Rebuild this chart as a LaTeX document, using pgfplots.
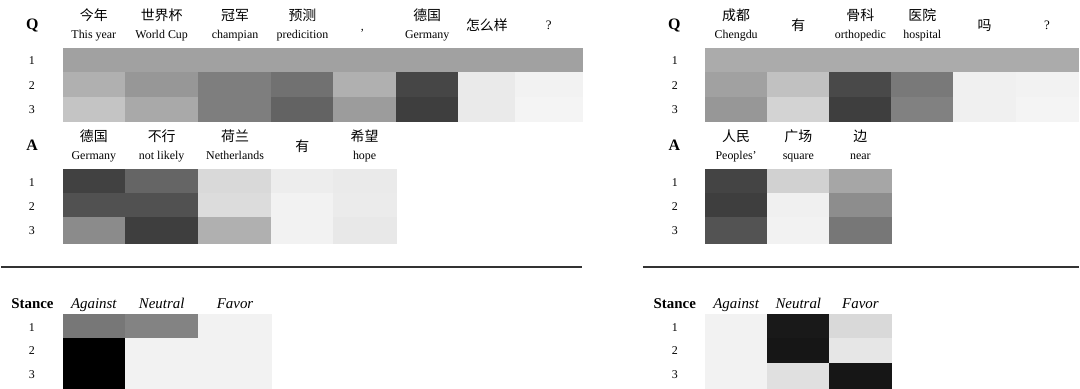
\documentclass[border=0pt]{standalone}
\usepackage{fontspec}
\setmainfont{Liberation Serif}
\newfontfamily\cjk{Noto Sans CJK SC}
\usepackage{pgfplots}
\pgfplotsset{compat=1.18}

% one unit of the axis = one pixel of the reference
\newcommand{\zh}{\cjk\fontsize{14}{14}\selectfont}
\newcommand{\en}{\fontsize{12}{12}\selectfont}
\pgfplotsset{
  heat/.style={surf, shader=flat corner, point meta=explicit, mesh/cols=#1},
}
\tikzset{
  lab/.style={anchor=base, inner sep=0pt, font=\en},
  hz/.style={anchor=base, inner sep=0pt, font=\zh},
}

\begin{document}
\begin{tikzpicture}
\begin{axis}[
  scale only axis, width=1080bp, height=389bp,
  xmin=0, xmax=1080, ymin=0, ymax=389, y dir=reverse,
  hide axis, clip=false,
  colormap={bw}{gray(0cm)=(0); gray(1cm)=(1)},
  point meta min=0, point meta max=255,
]
\path (axis cs:0,0) rectangle (axis cs:1080,389);

% ---------------- left: Q ----------------
\addplot[heat=9] table[meta=c] {
x y c
62 48.3 160
124 48.3 160
198 48.3 160
271 48.3 160
333 48.3 160
395.5 48.3 160
458.3 48.3 160
515.3 48.3 160
582.3 48.3 160
62 72.7 175
124 72.7 150
198 72.7 125
271 72.7 112
333 72.7 175
395.5 72.7 70
458.3 72.7 232
515.3 72.7 240
582.3 72.7 240
62 97.1 195
124 97.1 168
198 97.1 125
271 97.1 98
333 97.1 155
395.5 97.1 62
458.3 97.1 232
515.3 97.1 242
582.3 97.1 242
62 121.7 255
124 121.7 255
198 121.7 255
271 121.7 255
333 121.7 255
395.5 121.7 255
458.3 121.7 255
515.3 121.7 255
582.3 121.7 255
};

% ---------------- left: A ----------------
\addplot[heat=6] table[meta=c] {
x y c
62 169.3 65
124 169.3 100
198 169.3 215
271 169.3 235
333 169.3 232
395.5 169.3 232
62 193.5 80
124 193.5 80
198 193.5 218
271 193.5 240
333 193.5 233
395.5 193.5 233
62 218 138
124 218 62
198 218 175
271 218 240
333 218 230
395.5 218 230
62 243.3 255
124 243.3 255
198 243.3 255
271 243.3 255
333 243.3 255
395.5 243.3 255
};

% ---------------- left: Stance ----------------
\addplot[heat=4] table[meta=c] {
x y c
62 315 118
124 315 130
198 315 240
271 315 240
62 339.3 0
124 339.3 240
198 339.3 240
271 339.3 240
62 363.7 0
124 363.7 240
198 363.7 240
271 363.7 240
62 389 255
124 389 255
198 389 255
271 389 255
};

% ---------------- right: Q ----------------
\addplot[heat=7] table[meta=c] {
x y c
705.3 48.3 170
767.7 48.3 170
830 48.3 170
892 48.3 170
954 48.3 170
1016.7 48.3 170
1079 48.3 170
705.3 72.7 160
767.7 72.7 192
830 72.7 72
892 72.7 120
954 72.7 238
1016.7 72.7 240
1079 72.7 240
705.3 97.1 150
767.7 97.1 210
830 97.1 62
892 97.1 128
954 97.1 238
1016.7 97.1 242
1079 97.1 242
705.3 121.7 255
767.7 121.7 255
830 121.7 255
892 121.7 255
954 121.7 255
1016.7 121.7 255
1079 121.7 255
};

% ---------------- right: A ----------------
\addplot[heat=4] table[meta=c] {
x y c
705.3 169.3 68
767.7 169.3 208
830 169.3 165
892 169.3 165
705.3 193.5 62
767.7 193.5 238
830 193.5 140
892 193.5 140
705.3 218 82
767.7 218 240
830 218 118
892 218 118
705.3 243.3 255
767.7 243.3 255
830 243.3 255
892 243.3 255
};

% ---------------- right: Stance ----------------
\addplot[heat=4] table[meta=c] {
x y c
705.3 315 240
767.7 315 25
830 315 215
892 315 215
705.3 339.3 240
767.7 339.3 22
830 339.3 228
892 339.3 228
705.3 363.7 240
767.7 363.7 222
830 363.7 22
892 363.7 22
705.3 389 255
767.7 389 255
830 389 255
892 389 255
};

% separating rules
\draw[line width=2bp, black!80] (axis cs:0,267.3) -- (axis cs:582.3,267.3);
\draw[line width=2bp, black!80] (axis cs:643,267.3) -- (axis cs:1080,267.3);

% ---------------- left labels ----------------
\node[lab, font=\fontsize{16}{16}\selectfont\bfseries] at (axis cs:31.3,29.5) {Q};
\node[lab] at (axis cs:31,65) {1};
\node[lab] at (axis cs:31,89.3) {2};
\node[lab] at (axis cs:31,113.5) {3};
\node[hz] at (axis cs:93,21) {今年};
\node[lab] at (axis cs:93,39) {This year};
\node[hz] at (axis cs:161,21) {世界杯};
\node[lab] at (axis cs:161,39) {World Cup};
\node[hz] at (axis cs:234.5,21) {冠军};
\node[lab] at (axis cs:234.5,39) {champian};
\node[hz] at (axis cs:302,21) {预测};
\node[lab] at (axis cs:302,39) {predicition};
\node[lab] at (axis cs:362,31) {,};
\node[hz] at (axis cs:427,21) {德国};
\node[lab] at (axis cs:427,39) {Germany};
\node[hz] at (axis cs:486.8,31) {怎么样};
\node[lab, font=\fontsize{13}{13}\selectfont] at (axis cs:548.8,30) {?};

\node[lab, font=\fontsize{16}{16}\selectfont\bfseries] at (axis cs:31.3,150.7) {A};
\node[lab] at (axis cs:31,186.7) {1};
\node[lab] at (axis cs:31,210.5) {2};
\node[lab] at (axis cs:31,235) {3};
\node[hz] at (axis cs:93,141.5) {德国};
\node[lab] at (axis cs:93,160) {Germany};
\node[hz] at (axis cs:161,141.5) {不行};
\node[lab] at (axis cs:161,160) {not likely};
\node[hz] at (axis cs:234.5,141.5) {荷兰};
\node[lab] at (axis cs:234.5,160) {Netherlands};
\node[hz] at (axis cs:302,152) {有};
\node[hz] at (axis cs:364.3,141.5) {希望};
\node[lab] at (axis cs:364.3,160) {hope};

\node[lab, font=\fontsize{15}{15}\selectfont\bfseries] at (axis cs:31.5,309.5) {Stance};
\node[lab, font=\fontsize{15}{15}\selectfont\itshape] at (axis cs:93,309.5) {Against};
\node[lab, font=\fontsize{15}{15}\selectfont\itshape] at (axis cs:161,309.5) {Neutral};
\node[lab, font=\fontsize{15}{15}\selectfont\itshape] at (axis cs:234.5,309.5) {Favor};
\node[lab] at (axis cs:31,331.7) {1};
\node[lab] at (axis cs:31,355.5) {2};
\node[lab] at (axis cs:31,379.5) {3};

% ---------------- right labels ----------------
\node[lab, font=\fontsize{16}{16}\selectfont\bfseries] at (axis cs:674.5,29.5) {Q};
\node[lab] at (axis cs:675,65) {1};
\node[lab] at (axis cs:675,89.3) {2};
\node[lab] at (axis cs:675,113.5) {3};
\node[hz] at (axis cs:736.5,21) {成都};
\node[lab] at (axis cs:736.5,39) {Chengdu};
\node[hz] at (axis cs:798.8,31) {有};
\node[hz] at (axis cs:861,21) {骨科};
\node[lab] at (axis cs:861,39) {orthopedic};
\node[hz] at (axis cs:923,21) {医院};
\node[lab] at (axis cs:923,39) {hospital};
\node[hz] at (axis cs:985.3,31) {吗};
\node[lab, font=\fontsize{13}{13}\selectfont] at (axis cs:1047.8,30) {?};

\node[lab, font=\fontsize{16}{16}\selectfont\bfseries] at (axis cs:674.5,150.7) {A};
\node[lab] at (axis cs:675,186.7) {1};
\node[lab] at (axis cs:675,210.5) {2};
\node[lab] at (axis cs:675,235) {3};
\node[hz] at (axis cs:736.5,141.5) {人民};
\node[lab] at (axis cs:736.5,160) {Peoples'};
\node[hz] at (axis cs:798.8,141.5) {广场};
\node[lab] at (axis cs:798.8,160) {square};
\node[hz] at (axis cs:861,141.5) {边};
\node[lab] at (axis cs:861,160) {near};

\node[lab, font=\fontsize{15}{15}\selectfont\bfseries] at (axis cs:675,309.5) {Stance};
\node[lab, font=\fontsize{15}{15}\selectfont\itshape] at (axis cs:736.5,309.5) {Against};
\node[lab, font=\fontsize{15}{15}\selectfont\itshape] at (axis cs:798.8,309.5) {Neutral};
\node[lab, font=\fontsize{15}{15}\selectfont\itshape] at (axis cs:861,309.5) {Favor};
\node[lab] at (axis cs:675,331.7) {1};
\node[lab] at (axis cs:675,355.5) {2};
\node[lab] at (axis cs:675,379.5) {3};
\end{axis}
\end{tikzpicture}
\end{document}
